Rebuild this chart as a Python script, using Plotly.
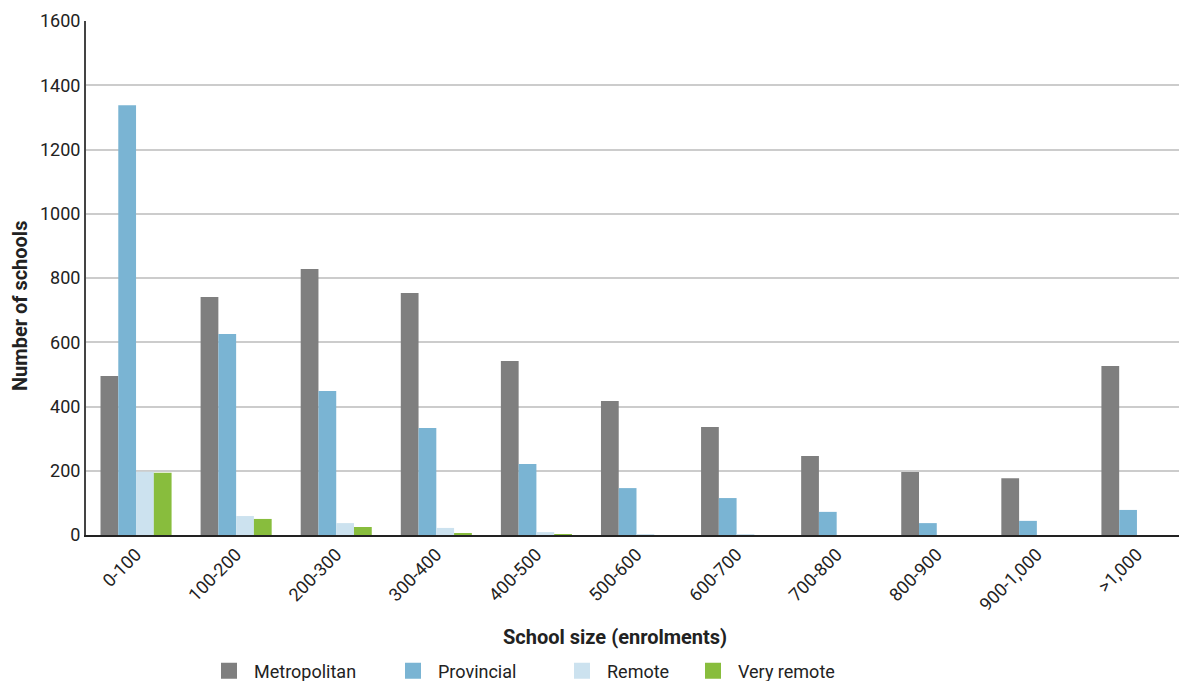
import plotly.graph_objects as go

# school size bands (enrolments)
categories = ["0-100", "100-200", "200-300", "300-400", "400-500", "500-600",
              "600-700", "700-800", "800-900", "900-1,000", ">1,000"]

metropolitan = [495, 741, 828, 753, 542, 417, 336, 246, 196, 177, 526]
provincial = [1338, 626, 448, 333, 221, 146, 115, 72, 37, 44, 78]
remote = [197, 59, 37, 22, 9, 2, 1, 0, 0, 0, 0]
very_remote = [194, 50, 25, 6, 3, 0, 0, 0, 0, 0, 0]

y_ticks = [0, 200, 400, 600, 800, 1000, 1200, 1400, 1600]

series = [
    ("Metropolitan", metropolitan, "#7f7f7f"),
    ("Provincial", provincial, "#7ab4d3"),
    ("Remote", remote, "#cce2ef"),
    ("Very remote", very_remote, "#88bd3d"),
]

FONT = "Roboto"
W, H = 1187, 681
# page body has an 8px margin, so everything is shifted by that much
OFF = 8
L, T = 86 - OFF, 21 - OFF
R, B = OFF, H - (535 - OFF)
pw, ph = W - L - R, H - T - B

fig = go.Figure()
for name, vals, col in series:
    fig.add_trace(go.Bar(x=categories, y=vals, name=name, marker_color=col,
                         marker_line_width=0, showlegend=False))

# legend: one box per entry so the spacing follows the reference
legend_left = [196, 380, 549, 680]
layout_legends = {}
for i, (name, vals, col) in enumerate(series):
    key = "legend" if i == 0 else f"legend{i + 1}"
    fig.add_trace(go.Scatter(x=[None], y=[None], mode="markers", name=name,
                             marker=dict(symbol="square", size=18, color=col),
                             legend=key, showlegend=True))
    layout_legends[key] = dict(xref="container", yref="container",
                               x=legend_left[i] / W, xanchor="left",
                               y=1 - (671 - OFF) / H, yanchor="middle",
                               orientation="h", itemwidth=40,
                               font=dict(family=FONT, size=18, color="#222222"),
                               bgcolor="rgba(0,0,0,0)")

fig.update_layout(
    width=W, height=H,
    margin=dict(l=L, r=R, t=T, b=B),
    barmode="group",
    bargap=0.29,
    bargroupgap=0,
    plot_bgcolor="white",
    paper_bgcolor="white",
    font=dict(family=FONT, size=17, color="#222222"),
    **layout_legends,
)

fig.update_xaxes(
    type="category",
    tickangle=-45,
    tickfont=dict(size=18),
    showline=True, linecolor="#222222", linewidth=2,
    ticks="", showgrid=False, automargin=False,
)

fig.update_yaxes(
    range=[0, 1600],
    tickvals=y_ticks,
    tickfont=dict(size=18),
    showline=True, linecolor="#444444", linewidth=2,
    showgrid=True, gridcolor="#cccccc", gridwidth=1.5,
    zeroline=False,
    ticks="", automargin=False,
)

fig.add_annotation(text="<b>School size (enrolments)</b>", xref="paper", yref="paper",
                   x=(615 - OFF - L) / pw, y=(T + ph - (637 - OFF)) / ph, showarrow=False,
                   font=dict(size=20, color="#222222"), xanchor="center", yanchor="middle")
fig.add_annotation(text="<b>Number of schools</b>", xref="paper", yref="paper",
                   x=(20 - OFF - L) / pw, y=(T + ph - (306 - OFF)) / ph, showarrow=False,
                   textangle=-90,
                   font=dict(size=20, color="#222222"), xanchor="center", yanchor="middle")

fig.write_html("out.html")
